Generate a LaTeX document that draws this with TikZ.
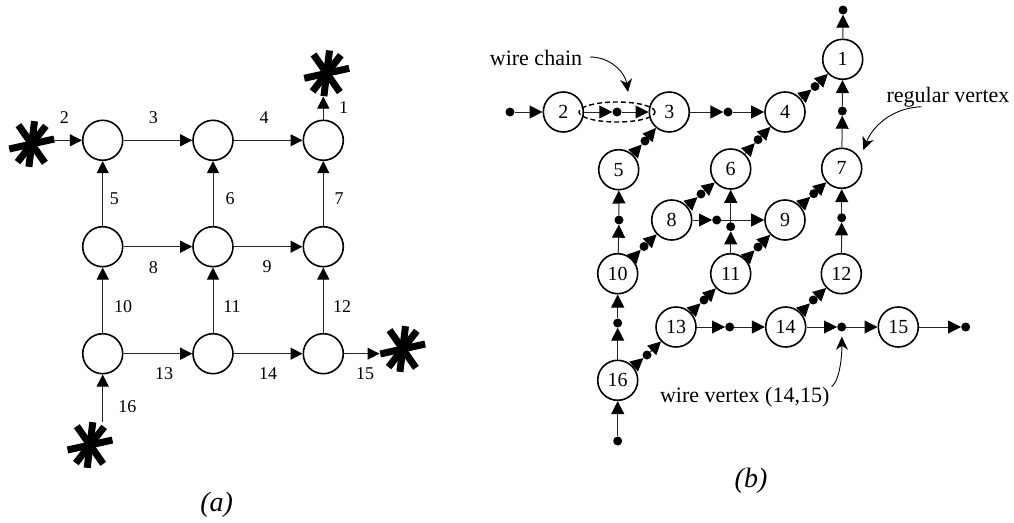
\documentclass[tikz,border=0pt]{standalone}
\usepackage{fontspec}
\setmainfont{Liberation Serif}
\usetikzlibrary{arrows.meta,shapes.geometric}
\tikzset{
  x=1pt,y=-1pt,
  vx/.style={circle,draw=black,line width=1.6pt,minimum size=40pt,inner sep=0pt,fill=white,font=\fontsize{20}{20}\selectfont},
  wv/.style={circle,fill=black,minimum size=9pt,inner sep=0pt},
  tv/.style={inner sep=0pt,font=\fontsize{18}{18}\selectfont},
  note/.style={inner sep=0pt,font=\fontsize{22}{22}\selectfont},
  capt/.style={inner sep=0pt,font=\fontsize{28}{28}\selectfont\itshape},
  edge/.style={line width=1pt,draw=black!85,-{Triangle[length=12pt,width=12pt,color=black]}},
  edgeb/.style={edge,-{Triangle[length=13pt,width=13pt,color=black]}},
  callout/.style={line width=0.9pt,-{Stealth[length=13pt,width=12pt,inset=4pt]}},
  starbar/.style={line width=7pt,black},
  starhub/.style={circle,inner sep=0pt,minimum size=46pt}
}
\newcommand{\starmark}[3]{%
  \node[starhub] (#1) at (#2,#3) {};
  \foreach \a in {-12.5,-83,-125,-52}{\draw[starbar] (#1.center) ++(\a:23) -- ++(\a+180:46);}%
}
\begin{document}
\begin{tikzpicture}
\useasboundingbox (0,0) rectangle (1014,522);
% ---- (a)
\foreach \n/\x/\y in {a/102.7/140.3,b/213/140.3,c/323.3/140.3,d/102.7/246.7,e/213/246.7,f/323.3/246.7,g/102.7/353.7,h/213/353.7,i/323.3/353.7}
  \node[vx] (\n) at (\x,\y) {};
\starmark{st}{326.7}{73.3}
\starmark{sl}{31.7}{144}
\starmark{sr}{402.7}{349}
\starmark{sb}{90}{445}
\draw[edge] (sl.east |- a) -- (a);
\draw[edge] (a) -- (b);
\draw[edge] (b) -- (c);
\draw[edge] (c) -- (c |- st.south);
\draw[edge] (d) -- (a);
\draw[edge] (e) -- (b);
\draw[edge] (f) -- (c);
\draw[edge] (d) -- (e);
\draw[edge] (e) -- (f);
\draw[edge] (g) -- (d);
\draw[edge] (h) -- (e);
\draw[edge] (i) -- (f);
\draw[edge] (g) -- (h);
\draw[edge] (h) -- (i);
\draw[edge] (i) -- (sr.west |- i);
\draw[edge] (g |- sb.north) -- (g);
\foreach \t/\x/\y in {2/64.3/117.7,3/153.3/118,4/264/118,1/343.7/107.3,5/114.3/199,6/230/199,7/339/199,8/153.3/267.3,9/267/267,10/123/306.7,11/232/306.7,12/342/306.7,13/164/373.7,14/268/373.7,15/365/373.7,16/127.3/406.7}
  \node[tv] (la\t) at (\x,\y) {\t};
\node[capt] (capa) at (216.7,505) {(a)};
% ---- (b)
\foreach \n/\x/\y in {1/842.7/59.3,2/563.3/112,3/669.3/112,4/785/112,5/618.7/169.7,6/730.7/169,7/841.7/168.3,8/671.7/220,9/785/220,10/617.7/273.7,11/730.7/273.7,12/841.3/273.7,13/676/327,14/785.7/327,15/898.3/327,16/617.7/380.3}
  \node[vx] (n\n) at (\x,\y) {\n};
\foreach \n/\x/\y in {s/510/112,ab/617/112,bb/728/112,t/843/10,ag/842.3/111,gl/841.7/217.7,je/619/220,hi/716.7/220,fk/730.7/226.7,ce/645/141,df/758/139.7,fh/701/194,hj/644/246.5,ad/815/86.5,gi/813.7/193.7,ik/758/247,km/704/300,ln/813.3/300,mp/647/355,mn/729.7/327,no/841.7/327,oe/965.7/327,u/617.7/441,pj/617.7/323}
  \node[wv] (w\n) at (\x,\y) {};
\foreach \p/\q in {ws/n2,n2/wab,wab/n3,n3/wbb,wbb/n4,n1/wt,n7/wag,wag/n1,n12/wgl,wgl/n7,n10/wje,wje/n5,n8/whi,whi/n9,n11/wfk,wfk/n6,n5/wce,wce/n3,n6/wdf,wdf/n4,n8/wfh,wfh/n6,n10/whj,whj/n8,n4/wad,wad/n1,n9/wgi,wgi/n7,n11/wik,wik/n9,n13/wkm,wkm/n11,n14/wln,wln/n12,n16/wmp,wmp/n13,n13/wmn,wmn/n14,n14/wno,wno/n15,n15/woe,wu/n16,n16/wpj,wpj/n10}
  {\draw[edgeb] (\p) -- (\q);}
\node[ellipse,draw=black,dash pattern=on 5pt off 3pt,line width=1.4pt,minimum width=76pt,minimum height=20pt,inner sep=0pt] (chain) at (617,112) {};
\node[note] (lc) at (536,58) {wire chain};
\node[note] (lr) at (948,97) {regular vertex};
\node[note] (lw) at (744.7,397) {wire vertex (14,15)};
\node[capt] (capb) at (751,481) {(b)};
\coordinate (c1) at (628,92);
\coordinate (c2) at (863.3,150);
\coordinate (c3) at (590,57);
\coordinate (c4) at (921.7,106.7);
\coordinate (c5) at (831.7,386.7);
\draw[callout] (c3) .. controls (610,57) and (625,72) .. (c1);
\draw[callout] (c4) .. controls (890,108) and (872,128) .. (c2);
\draw[callout,shorten >=5pt] (c5) .. controls (840,380) and (842,355) .. (wno);
\end{tikzpicture}
\end{document}
